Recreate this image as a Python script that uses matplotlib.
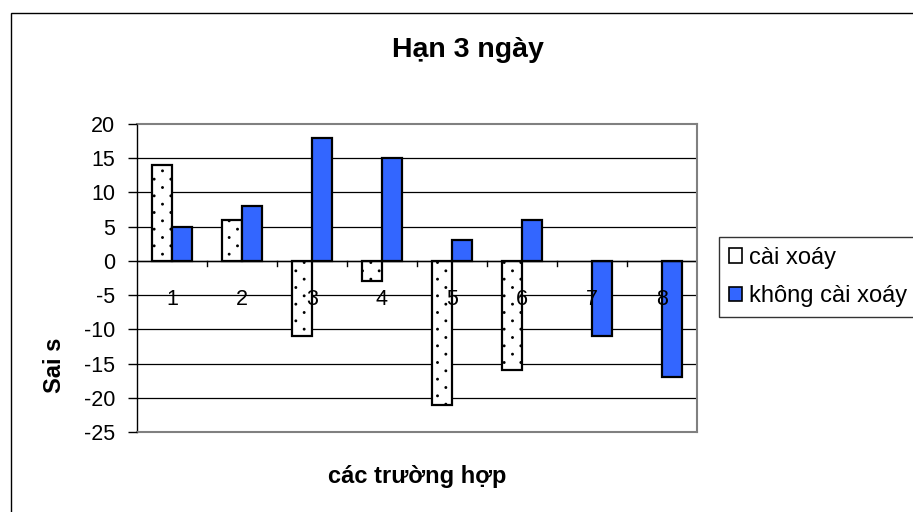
import numpy as np
import matplotlib
matplotlib.use("Agg")
import matplotlib.pyplot as plt
import matplotlib.transforms as mtransforms
import matplotlib.hatch as mhatch
from matplotlib.path import Path
from matplotlib.patches import Rectangle

plt.rcParams['font.family'] = ['Liberation Sans', 'DejaVu Sans']
plt.rcParams['hatch.linewidth'] = 0.9


class SparseDots(mhatch.HatchPatternBase):
    """'.' hatch: small dots in staggered rows, tighter vertically than across."""
    radius = 0.008

    def __init__(self, hatch, density):
        n = hatch.count('.')
        self.ncols = n * density
        self.nrows = n * density * 2
        circle = Path.unit_circle()
        self.shape_vertices = circle.vertices
        self.shape_codes = circle.codes
        self.num_vertices = self.ncols * self.nrows * len(self.shape_vertices)

    def set_vertices_and_codes(self, vertices, codes):
        parts_v, parts_c = [], []
        for r in range(self.nrows):
            shift = 0.25 if r % 2 == 0 else 0.75
            y = (r + 0.5) / self.nrows
            for c in range(self.ncols):
                xx = (c + shift) / self.ncols
                parts_v.append(self.shape_vertices * self.radius + [xx, y])
                parts_c.append(self.shape_codes)
        np.concatenate(parts_v, out=vertices)
        np.concatenate(parts_c, out=codes)


mhatch._hatch_types = [t for t in mhatch._hatch_types
                       if t is not mhatch.SmallFilledCircles] + [SparseDots]

# Data
categories = ['1', '2', '3', '4', '5', '6', '7', '8']
cai_xoay = [14, 6, -11, -3, -21, -16, np.nan, np.nan]
khong_cai_xoay = [5, 8, 18, 15, 3, 6, -11, -17]
y_ticks = [-25, -20, -15, -10, -5, 0, 5, 10, 15, 20]

W, H = 913, 512
fig = plt.figure(figsize=(W / 100, H / 100), dpi=100)

# outer chart frame
fig.patches.append(Rectangle((11 / W, -0.2), 1.2, 1.2 - 13 / H,
                             transform=fig.transFigure, fill=False,
                             edgecolor='black', lw=1.0, zorder=0))

left, right, top, bottom = 137, 697, 124, 432
ax = fig.add_axes([left / W, 1 - bottom / H, (right - left) / W, (bottom - top) / H])
ax.set_axisbelow(False)

x = np.arange(len(categories))
bw = 1 / 3.5
ax.bar(x - bw / 2, cai_xoay, width=bw, facecolor='white', edgecolor='black',
       hatch='.', linewidth=1.6, label='cài xoáy', zorder=2)
ax.bar(x + bw / 2, khong_cai_xoay, width=bw, facecolor='#3366FF', edgecolor='black',
       linewidth=1.6, label='không cài xoáy', zorder=2)

ax.set_xlim(-0.5, len(categories) - 0.5)
ax.set_ylim(-25, 20)
ax.set_yticks(y_ticks)
ax.set_yticklabels([str(v) for v in y_ticks], fontsize=15.5)
ax.tick_params(axis='y', direction='out', length=6.5, width=1, pad=9, color='black')

# horizontal gridlines
for v in y_ticks[1:-1]:
    ax.axhline(v, color='black', lw=0.9, zorder=1)

# spines
ax.spines['left'].set_color('black')
ax.spines['left'].set_linewidth(1.0)
for s in ('top', 'right', 'bottom'):
    ax.spines[s].set_color('#808080')
    ax.spines[s].set_linewidth(1.5)

# category axis crossing at zero, with boundary tick marks
ax.axhline(0, color='black', lw=1.0, zorder=2.2)
ax.set_xticks(np.arange(len(categories) + 1) - 0.5)
ax.set_xticklabels([])
ax.tick_params(axis='x', which='major', length=0)
for b in np.arange(1, len(categories) + 1) - 0.5:
    ax.plot([b, b], [0, -0.8], color='black', lw=1.0, zorder=2.2)

# category labels just under the zero line, drawn above the bars
ax.set_xticks(x, minor=True)
ax.set_xticklabels(categories, minor=True, fontsize=15.5)
ax.tick_params(axis='x', which='minor', length=0, pad=0)
zero_frac = (0 - (-25)) / 45.0
offset = mtransforms.ScaledTranslation(0, -0.39, fig.dpi_scale_trans)
for t in ax.xaxis.get_minor_ticks():
    t.label1.set_transform(mtransforms.blended_transform_factory(ax.transData, ax.transAxes) + offset)
    t.label1.set_y(zero_frac)
    t.label1.set_va('center')

fig.text(468 / W, 1 - 50 / H, 'Hạn 3 ngày', fontsize=20.5, fontweight='bold',
         ha='center', va='center')
fig.text(417 / W, 1 - 477 / H, 'các trường hợp', fontsize=17, fontweight='bold',
         ha='center', va='center')
fig.text(54 / W, 1 - 365 / H, 'Sai s', fontsize=17, fontweight='bold',
         ha='center', va='center', rotation=90)

leg = ax.legend(loc='upper left', bbox_to_anchor=(719 / W, 1 - 237 / H),
                bbox_transform=fig.transFigure, fontsize=17, frameon=True,
                fancybox=False, shadow=False, borderpad=0.42, labelspacing=0.7,
                handlelength=0.55, handleheight=0.55, handletextpad=0.3,
                borderaxespad=0)
leg.get_frame().set_edgecolor('black')
leg.get_frame().set_linewidth(1.0)
for h in leg.legend_handles:
    h.set_hatch(None)
    h.set_linewidth(1.2)

fig.savefig('out.png', dpi=100)
